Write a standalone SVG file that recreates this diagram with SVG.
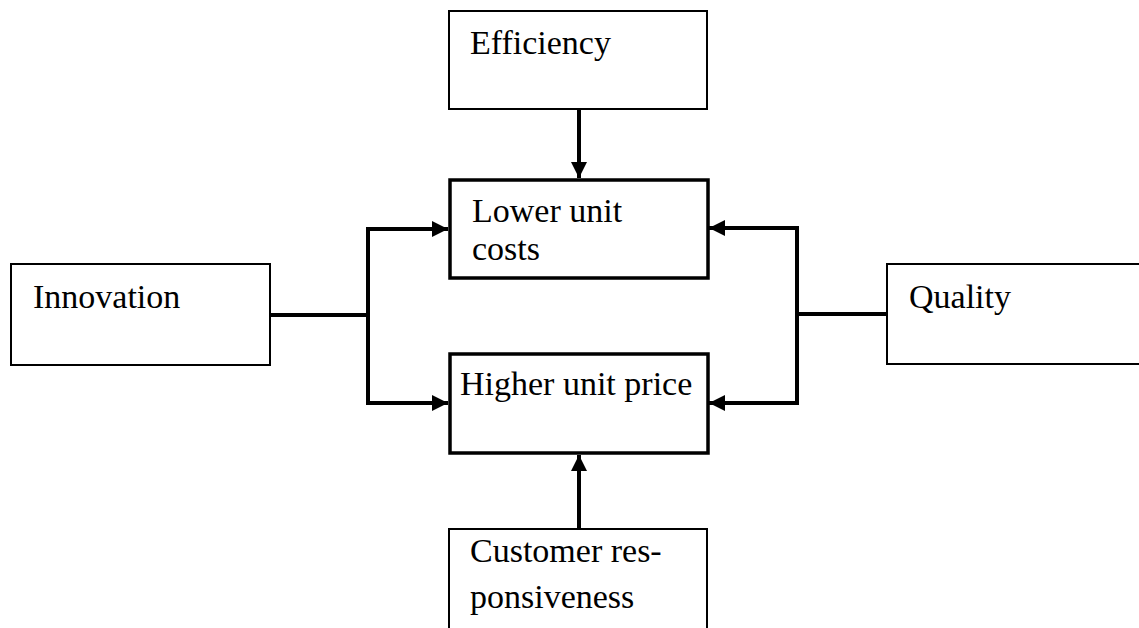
<svg xmlns="http://www.w3.org/2000/svg" width="1139" height="628" viewBox="0 0 1139 628">
  <style>
    .box { fill: #ffffff; stroke: #000000; stroke-width: 2; }
    .box.core { stroke-width: 3.5; }
    .label { font-family: "Liberation Serif", "Times New Roman", serif; font-size: 34px; fill: #000000; }
    .wire { fill: none; stroke: #000000; stroke-width: 4; }
  </style>
  <defs>
    <marker id="arrow" markerUnits="userSpaceOnUse" markerWidth="16" markerHeight="16" viewBox="0 0 16 16" refX="16" refY="8" orient="auto">
      <path d="M0,0 L16,8 L0,16 Z" fill="#000000"/>
    </marker>
  </defs>

  <rect x="0" y="0" width="1139" height="628" fill="#ffffff"/>

  <!-- connectors -->
  <g id="connectors">
    <!-- Efficiency to Lower unit costs -->
    <line class="wire" x1="579" y1="109" x2="579" y2="178" marker-end="url(#arrow)"/>
    <!-- Customer responsiveness to Higher unit price -->
    <line class="wire" x1="579" y1="529" x2="579" y2="455" marker-end="url(#arrow)"/>
    <!-- Innovation branch -->
    <line class="wire" x1="270" y1="315" x2="368" y2="315"/>
    <polyline class="wire" points="448,229 368,229 368,403 448,403" marker-end="url(#arrow)"/>
    <line class="wire" x1="368" y1="229" x2="448" y2="229" marker-end="url(#arrow)"/>
    <!-- Quality branch -->
    <line class="wire" x1="887" y1="314" x2="797" y2="314"/>
    <polyline class="wire" points="709,403 797,403 797,228 709,228" marker-end="url(#arrow)"/>
    <line class="wire" x1="797" y1="403" x2="709" y2="403" marker-end="url(#arrow)"/>
  </g>

  <g id="efficiency">
    <rect class="box" x="449" y="11" width="258" height="98"/>
    <text class="label" x="470" y="54">Efficiency</text>
  </g>

  <g id="lower-unit-costs">
    <rect class="box core" x="450" y="180" width="258" height="98"/>
    <text class="label" x="472" y="222">Lower unit</text>
    <text class="label" x="472" y="260">costs</text>
  </g>

  <g id="higher-unit-price">
    <rect class="box core" x="450" y="354" width="258" height="99"/>
    <text class="label" x="460" y="395">Higher unit price</text>
  </g>

  <g id="innovation">
    <rect class="box" x="11" y="264" width="259" height="101"/>
    <text class="label" x="33" y="308">Innovation</text>
  </g>

  <g id="quality">
    <rect class="box" x="887" y="264" width="256" height="100"/>
    <text class="label" x="909" y="308">Quality</text>
  </g>

  <g id="customer-responsiveness">
    <rect class="box" x="449" y="529" width="258" height="104"/>
    <text class="label" x="470" y="562">Customer res-</text>
    <text class="label" x="470" y="608">ponsiveness</text>
  </g>
</svg>
